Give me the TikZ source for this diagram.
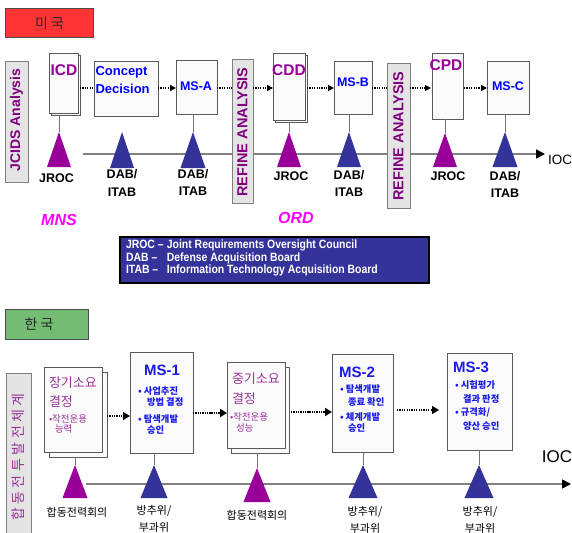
\documentclass[tikz,border=0pt]{standalone}
\usepackage{fontspec}
\setmainfont{Liberation Sans}
\newfontfamily\kr{Noto Sans CJK KR}
\usetikzlibrary{arrows.meta}
\definecolor{usred}{HTML}{FF3535}
\definecolor{krgreen}{HTML}{74BC74}
\definecolor{pur}{HTML}{990099}
\definecolor{purtext}{HTML}{800080}
\definecolor{krpur}{HTML}{993399}
\definecolor{mag}{HTML}{FF00FF}
\definecolor{navy}{HTML}{333399}
\definecolor{bl}{HTML}{0000FF}
\definecolor{krbl}{HTML}{1A1AE6}
\definecolor{bargray}{HTML}{E4E4E4}
\newcommand\mytri[6]{% name, x, apex y, base y, half width, colour
  \coordinate (#1) at (#2,#3);
  \fill[#6] (#1) -- ++(-#5,#4-#3) -- ++(2*#5,0) -- cycle;}
\newcommand\fs[1]{\fontsize{#1}{#1}\selectfont}
\begin{document}
\begin{tikzpicture}[x=1pt,y=-1pt,
  box/.style={draw=black!65, fill=black!2, line width=0.8pt, inner sep=0pt, outer sep=0pt, anchor=north west},
  bar/.style={draw=black!50, fill=bargray, line width=0.8pt, inner sep=0pt, outer sep=0pt, anchor=north west},
  txt/.style={inner sep=0pt, outer sep=0pt},
  link/.style={draw=black!55, line width=0.8pt},
  tline/.style={draw=black!50, line width=1.6pt},
  dotsa/.style={line width=1.2pt, dash pattern=on 1.2pt off 1.2pt},
  dotsb/.style={line width=2pt, dash pattern=on 1.4pt off 0.9pt},
  heada/.style={-{Triangle[length=6pt,width=6pt,color=black]}},
  headb/.style={-{Triangle[length=7pt,width=8pt,color=black]}},
  tip/.style={-{Triangle[length=9pt,width=9pt,color=black]}},
  en/.style={txt, font=\bfseries\fontsize{12.5}{17.5}\selectfont, align=center},
  krlab/.style={txt, font=\kr\fontsize{11}{17}\selectfont, align=center},
]
\useasboundingbox (0,0) rectangle (572,532);

% ================= US section =================
\node[draw=black!70, fill=usred, line width=1pt, anchor=north west, minimum width=88pt, minimum height=29pt, inner sep=0pt] (us) at (5,8) {};
\node[txt, font=\kr\fs{14}, text=black!85] (ustxt) at (us.center) {미 국};

% timeline (drawn first, boxes on top)
\coordinate (ta) at (83,154);
\coordinate (tb) at (545,154);
\draw[tline, tip] (ta) -- (tb);
\node[txt, font=\fs{13.5}, anchor=west] (ioc1) at (548,160) {IOC};

% vertical bars
\node[bar, minimum width=23pt, minimum height=121pt] (jcids) at (5,61) {};
\node[txt, rotate=90, font=\bfseries\fs{14}, text=purtext] (jcidstxt) at (16.5,120) {JCIDS Analysis};
\node[bar, minimum width=21pt, minimum height=144pt] (ref1) at (232,59) {};
\node[txt, rotate=90, font=\bfseries\fs{14.5}, text=purtext] (ref1txt) at (242.5,132) {REFINE ANALYSIS};
\node[bar, minimum width=23pt, minimum height=145pt] (ref2) at (387,63) {};
\node[txt, rotate=90, font=\bfseries\fs{14.5}, text=purtext] (ref2txt) at (398.5,136) {REFINE ANALYSIS};

% boxes
\node[box, minimum width=29pt, minimum height=60pt] (icdsh) at (51,55) {};
\node[box, minimum width=29pt, minimum height=60pt] (icd) at (49,53) {};
\node[txt, font=\bfseries\fs{15.5}, text=pur] (icdtxt) at (64,70) {ICD};
\node[box, minimum width=64pt, minimum height=55pt] (concept) at (94,61) {};
\node[txt, font=\bfseries\fontsize{13}{18}\selectfont, text=bl, align=left, anchor=west] (concepttxt) at (95.5,80)
  {Concept\\Decision};
\node[box, minimum width=41pt, minimum height=54pt] (msa) at (176,60) {};
\node[txt, font=\bfseries\fs{12.5}, text=bl] (msatxt) at (196,86) {MS-A};
\node[box, minimum width=32pt, minimum height=67pt] (cddsh) at (275,55) {};
\node[box, minimum width=32pt, minimum height=67pt] (cdd) at (273,53) {};
\node[txt, font=\bfseries\fs{15.5}, text=pur] (cddtxt) at (289,70) {CDD};
\node[box, minimum width=38pt, minimum height=53pt] (msb) at (334,61) {};
\node[txt, font=\bfseries\fs{12.5}, text=bl] (msbtxt) at (353,82) {MS-B};
\node[box, minimum width=31pt, minimum height=66pt] (cpd) at (432,53) {};
\node[txt, font=\bfseries\fs{15.5}, text=pur] (cpdtxt) at (446,65) {CPD};
\node[box, minimum width=42pt, minimum height=53pt] (msc) at (487,61) {};
\node[txt, font=\bfseries\fs{12.5}, text=bl] (msctxt) at (508,86) {MS-C};

% dotted connectors
\coordinate (ay) at (0,88);
\draw[dotsa] (icdsh.east |- ay) -- (concept.west |- ay);
\draw[dotsa, heada] (concept.east |- ay) -- (msa.west |- ay);
\draw[dotsa] (msa.east |- ay) -- (ref1.west |- ay);
\draw[dotsa, heada] (ref1.east |- ay) -- (cdd.west |- ay);
\draw[dotsa, heada] (cddsh.east |- ay) -- (msb.west |- ay);
\draw[dotsa] (msb.east |- ay) -- (ref2.west |- ay);
\draw[dotsa, heada] (ref2.east |- ay) -- ([xshift=-1pt]cpd.west |- ay);
\draw[dotsa, heada] ([xshift=1pt]cpd.east |- ay) -- (msc.west |- ay);

% triangles
\mytri{t1}{59}{132}{167}{12}{pur}
\mytri{t2}{122}{132}{168}{12}{navy}
\mytri{t3}{193}{132}{168}{12.5}{navy}
\mytri{t4}{289}{132}{167}{12}{pur}
\mytri{t5}{349}{132}{167}{12}{navy}
\mytri{t6}{445}{133}{167}{12}{pur}
\mytri{t7}{505}{132}{167}{12.5}{navy}
\draw[link] (t1 |- icdsh.south) -- (t1);
\draw[link] (t3 |- msa.south) -- (t3);
\draw[link] (t4 |- cddsh.south) -- (t4);
\draw[link] (t5 |- msb.south) -- (t5);
\draw[link] (t6 |- cpd.south) -- (t6);
\draw[link] (t7 |- msc.south) -- (t7);

% labels
\node[en] (l1) at (56.5,178) {JROC};
\node[en] (l2) at (122,183) {DAB/\\ITAB};
\node[en] (l3) at (193,182.5) {DAB/\\ITAB};
\node[en] (l4) at (291,176) {JROC};
\node[en] (l5) at (349,183.5) {DAB/\\ITAB};
\node[en] (l6) at (448,176) {JROC};
\node[en] (l7) at (505,184.5) {DAB/\\ITAB};

\node[txt, font=\bfseries\itshape\fs{16}, text=mag] (mns) at (59,220) {MNS};
\node[txt, font=\bfseries\itshape\fs{16}, text=mag] (ord) at (296,218) {ORD};

% legend
\node[draw=black, fill=navy, line width=2pt, anchor=north west, minimum width=309pt, minimum height=46pt, inner sep=0pt] (legend) at (119,236) {};
\node[txt, anchor=west, align=left, text=white, font=\bfseries\fontsize{12}{12.5}\selectfont] (legendtxt) at (126,258)
 {\scalebox{.87}[1]{\makebox[47pt][l]{JROC –}Joint Requirements Oversight Council}\\
  \scalebox{.87}[1]{\makebox[47pt][l]{DAB –}Defense Acquisition Board}\\
  \scalebox{.87}[1]{\makebox[47pt][l]{ITAB –}Information Technology Acquisition Board}};

% ================= Korea section =================
\node[draw=black!70, fill=krgreen, line width=1pt, anchor=north west, minimum width=83pt, minimum height=30pt, inner sep=0pt] (kr) at (5,309) {};
\node[txt, font=\kr\fs{14}, text=black!85] (krtxt) at (39,324) {한 국};

\coordinate (ba) at (86,484);
\coordinate (bb) at (571,484);
\draw[tline, tip] (ba) -- (bb);
\node[txt, font=\fs{17}] (ioc2) at (557,457) {IOC};

\node[bar, minimum width=25pt, minimum height=175pt] (krbar) at (6,373) {};
\node[txt, rotate=90, font=\kr\fs{14}, text=krpur] (krbartxt) at (18.5,457)
 {합\hspace{3.5pt}동\hspace{3.5pt}전\hspace{3.5pt}투\hspace{3.5pt}발\hspace{3.5pt}전\hspace{3.5pt}체\hspace{3.5pt}계};

% doc 1
\node[box, minimum width=58pt, minimum height=85pt] (jangsh) at (49,372) {};
\node[box, minimum width=58pt, minimum height=85pt] (jang) at (44,367) {};
\node[txt, anchor=west, font=\kr\fs{13}, text=krpur] (j1) at (49,383) {장기소요};
\node[txt, anchor=west, font=\kr\fs{13}, text=krpur] (j2) at (49,402) {결정};
\node[txt, anchor=west, font=\kr\fs{9.5}, text=krpur] (j3) at (49,419) {•작전운용};
\node[txt, anchor=west, font=\kr\fs{9.5}, text=krpur] (j4) at (55,429) {능력};

% MS-1
\node[box, minimum width=63pt, minimum height=101pt] (ms1) at (130,352) {};
\node[txt, font=\bfseries\fs{15}, text=krbl] (ms1t) at (162,370) {MS-1};
\node[txt, anchor=west, font=\kr\bfseries\fs{9.3}, text=krbl] (m11) at (138,391) {• 사업추진};
\node[txt, anchor=west, font=\kr\bfseries\fs{9.3}, text=krbl] (m12) at (147,402) {방법 결정};
\node[txt, anchor=west, font=\kr\bfseries\fs{9.3}, text=krbl] (m13) at (138,419) {• 탐색개발};
\node[txt, anchor=west, font=\kr\bfseries\fs{9.3}, text=krbl] (m14) at (147,430) {승인};

% doc 2
\node[box, minimum width=58pt, minimum height=86pt] (jungsh) at (231,367) {};
\node[box, minimum width=58pt, minimum height=86pt] (jung) at (227,362) {};
\node[txt, anchor=west, font=\kr\fs{13}, text=krpur] (g1) at (232,379) {중기소요};
\node[txt, anchor=west, font=\kr\fs{13}, text=krpur] (g2) at (232,399) {결정};
\node[txt, anchor=west, font=\kr\fs{9.5}, text=krpur] (g3) at (230,417) {•작전운용};
\node[txt, anchor=west, font=\kr\fs{9.5}, text=krpur] (g4) at (236,428) {성능};

% MS-2
\node[box, minimum width=61pt, minimum height=98pt] (ms2) at (332,354) {};
\node[txt, font=\bfseries\fs{15}, text=krbl] (ms2t) at (357,372) {MS-2};
\node[txt, anchor=west, font=\kr\bfseries\fs{9.3}, text=krbl] (m21) at (340,389) {• 탐색개발};
\node[txt, anchor=west, font=\kr\bfseries\fs{9.3}, text=krbl] (m22) at (348,402) {종료 확인};
\node[txt, anchor=west, font=\kr\bfseries\fs{9.3}, text=krbl] (m23) at (340,417) {• 체계개발};
\node[txt, anchor=west, font=\kr\bfseries\fs{9.3}, text=krbl] (m24) at (348,428) {승인};

% MS-3
\node[box, minimum width=65pt, minimum height=97pt] (ms3) at (447,353) {};
\node[txt, font=\bfseries\fs{15}, text=krbl] (ms3t) at (471,367) {MS-3};
\node[txt, anchor=west, font=\kr\bfseries\fs{9.3}, text=krbl] (m31) at (455,385) {• 시험평가};
\node[txt, anchor=west, font=\kr\bfseries\fs{9.3}, text=krbl] (m32) at (463,399) {결과 판정};
\node[txt, anchor=west, font=\kr\bfseries\fs{9.3}, text=krbl] (m33) at (455,412) {• 규격화/};
\node[txt, anchor=west, font=\kr\bfseries\fs{9.3}, text=krbl] (m34) at (463,426) {양산 승인};

% dotted arrows
\coordinate (by1) at (0,416);
\coordinate (by2) at (0,413);
\coordinate (by3) at (0,412);
\coordinate (by4) at (0,410);
\draw[dotsb, headb] (jangsh.east |- by1) -- (ms1.west |- by1);
\draw[dotsb, headb] (ms1.east |- by2) -- (jung.west |- by2);
\draw[dotsb, headb] ([xshift=2pt]jungsh.east |- by3) -- (ms2.west |- by3);
\draw[dotsa, headb] ([xshift=4pt]ms2.east |- by4) -- ([xshift=-8pt]ms3.west |- by4);

% triangles
\mytri{b1}{75}{465}{498}{12.5}{pur}
\mytri{b2}{154}{465}{498}{13.5}{navy}
\mytri{b3}{257}{468}{502}{13.5}{pur}
\mytri{b4}{363}{465}{498}{14.5}{navy}
\mytri{b5}{479}{465}{498}{14.5}{navy}
\draw[link] (b1 |- jangsh.south) -- (b1);
\draw[link] (b2 |- ms1.south) -- (b2);
\draw[link] (b3 |- jungsh.south) -- (b3);
\draw[link] (b4 |- ms2.south) -- (b4);
\draw[link] (b5 |- ms3.south) -- (b5);

% labels
\node[krlab] (k1) at (77,512) {합동전력회의};
\node[krlab] (k2) at (154,518.5) {방추위/\\부과위};
\node[krlab] (k3) at (257,515) {합동전력회의};
\node[krlab] (k4) at (365,519.5) {방추위/\\부과위};
\node[krlab] (k5) at (480,519.5) {방추위/\\부과위};
\end{tikzpicture}
\end{document}
